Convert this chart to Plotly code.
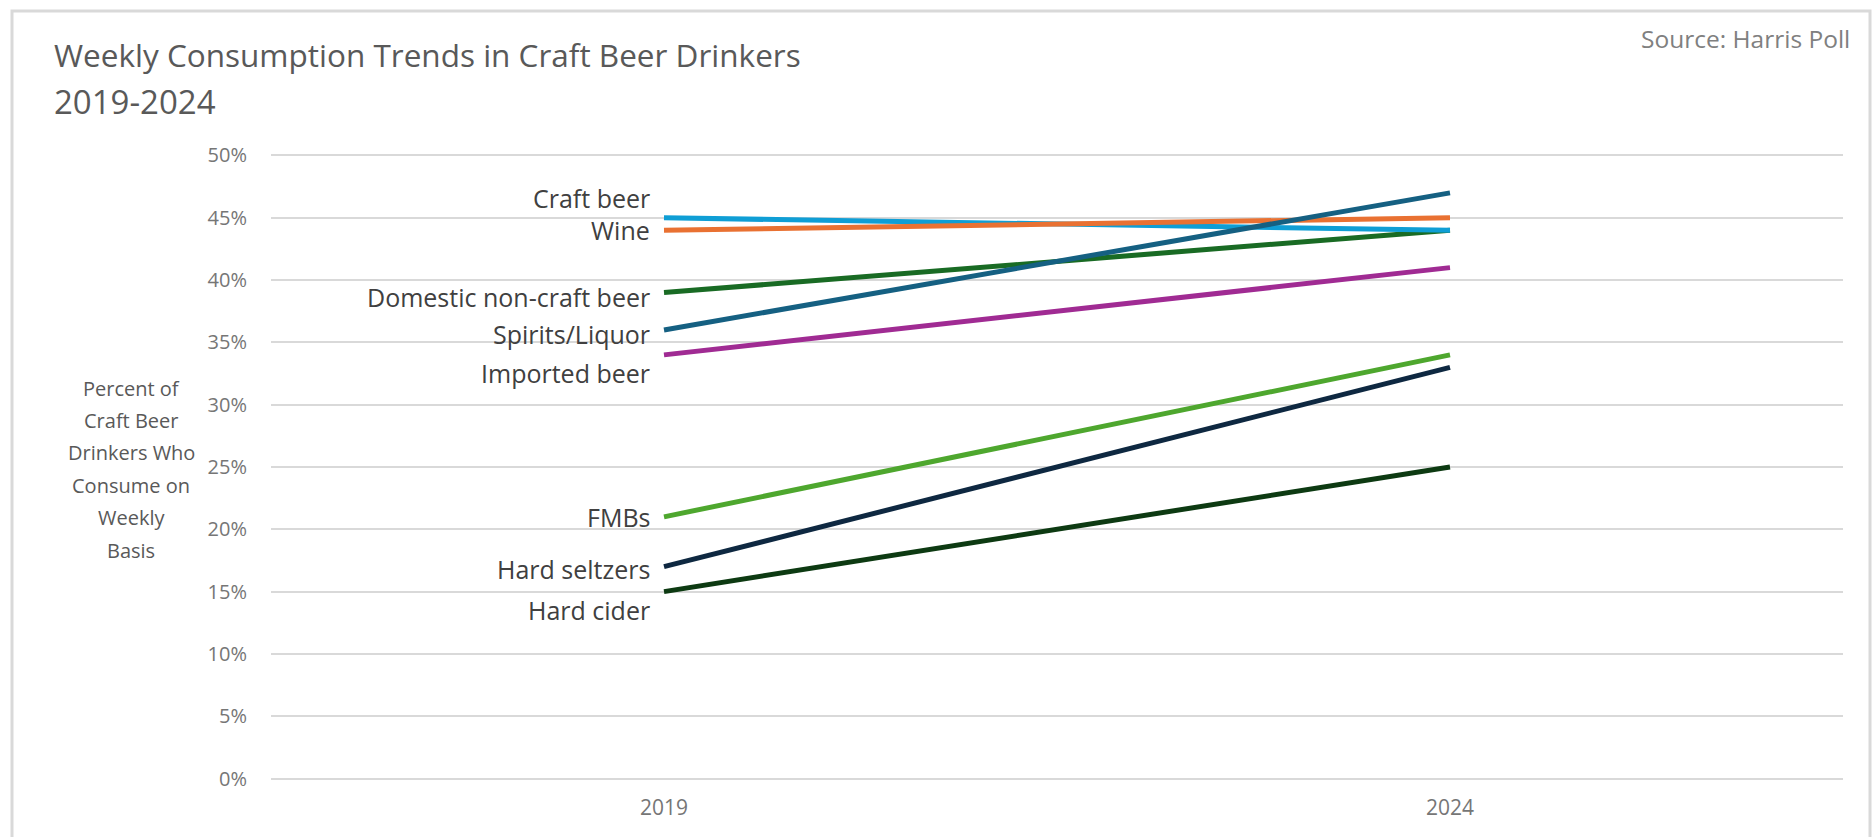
import plotly.graph_objects as go

years = ["2019", "2024"]
series_names = ["Hard cider", "Hard seltzers", "FMBs", "Imported beer",
                "Domestic non-craft beer", "Craft beer", "Wine", "Spirits/Liquor"]
values_2019 = [15, 17, 21, 34, 39, 45, 44, 36]
values_2024 = [25, 33, 34, 41, 44, 44, 45, 47]
colors = ["#0D3A12", "#0E2841", "#4EA72E", "#A02B93",
          "#196B24", "#0F9ED5", "#E97132", "#156082"]
# vertical pixel offset of each label relative to its 2019 point
label_shift = [-18, -2, 0, -18, -4, 20, 0, -4]
y_ticks = [0, 5, 10, 15, 20, 25, 30, 35, 40, 45, 50]
y_tick_text = [f"{v}%" for v in y_ticks]
y_title_lines = ["Percent of", "Craft Beer", "Drinkers Who", "Consume on", "Weekly", "Basis"]

W, H = 1874, 837
ML, MR, MT, MB = 271, 31, 153, 56
PW, PH = W - ML - MR, H - MT - MB

def px(x):
    return (x - ML) / PW

def py(y):
    return (H - MB - y) / PH

FONT = "Open Sans, Liberation Sans, sans-serif"
TXT = "#595959"
TICK = "#767676"

fig = go.Figure()
for name, a, b, c in zip(series_names, values_2019, values_2024, colors):
    fig.add_trace(go.Scatter(x=years, y=[a, b], mode="lines", name=name,
                             line=dict(color=c, width=5), showlegend=False,
                             hoverinfo="skip"))

annotations = []
for name, a, s in zip(series_names, values_2019, label_shift):
    annotations.append(dict(x=0, y=a, xref="x", yref="y", text=name,
                            showarrow=False, xanchor="right", yanchor="middle",
                            xshift=-12, yshift=s,
                            font=dict(family=FONT, size=25, color="#404040")))

annotations += [
    dict(x=px(52), y=py(55), xref="paper", yref="paper",
         text="Weekly Consumption Trends in Craft Beer Drinkers",
         showarrow=False, xanchor="left", yanchor="middle",
         font=dict(family=FONT, size=31.5, color=TXT)),
    dict(x=px(52), y=py(101), xref="paper", yref="paper", text="2019-2024",
         showarrow=False, xanchor="left", yanchor="middle",
         font=dict(family=FONT, size=33, color=TXT)),
    dict(x=px(1852), y=py(38), xref="paper", yref="paper",
         text="Source: Harris Poll", showarrow=False, xanchor="right",
         yanchor="middle", font=dict(family=FONT, size=24.5, color="#808080")),
]
for i, line in enumerate(y_title_lines):
    annotations.append(dict(x=px(131), y=py(388 + i * 32.4), xref="paper", yref="paper",
                            text=line, showarrow=False, xanchor="center",
                            yanchor="middle",
                            font=dict(family=FONT, size=20, color=TXT)))

fig.update_layout(
    width=W, height=H,
    margin=dict(l=ML, r=MR, t=MT, b=MB, autoexpand=False),
    paper_bgcolor="white", plot_bgcolor="white",
    annotations=annotations,
    shapes=[dict(type="rect", xref="paper", yref="paper",
                 x0=px(12), x1=px(1870), y0=py(900), y1=py(11),
                 line=dict(color="#D9D9D9", width=3), layer="below")],
    xaxis=dict(type="category", range=[-0.5, 1.5], showgrid=False,
               zeroline=False, showline=False, ticks="",
               tickfont=dict(family=FONT, size=21, color=TICK),
               ticklabelstandoff=12),
    yaxis=dict(range=[-0.2, 50.2], tickvals=y_ticks, ticktext=y_tick_text,
               showgrid=True, gridcolor="#D9D9D9", gridwidth=2,
               zeroline=True, zerolinecolor="#D9D9D9", zerolinewidth=2,
               showline=False, ticks="",
               tickfont=dict(family=FONT, size=20, color=TICK),
               ticklabelstandoff=23),
)

fig.write_html("out.html", config={"displayModeBar": False},
               post_script="document.body.style.margin='0px';document.body.style.overflow='hidden';")
